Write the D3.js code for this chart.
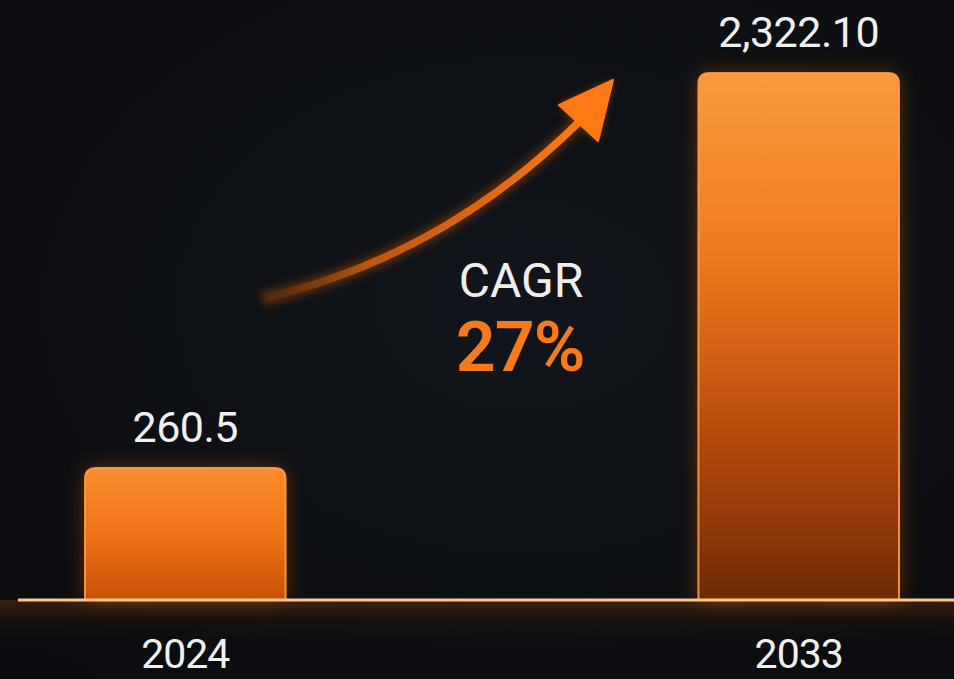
<!DOCTYPE html>
<html><head><meta charset="utf-8">
<script src="https://cdn.jsdelivr.net/npm/d3@7"></script>
<style>html,body{margin:0;padding:0;background:#0b0d11;overflow:hidden}svg{display:block}</style>
</head><body>
<script>
const years = ["2024", "2033"];
const values = [260.5, 2322.10];
const valueLabels = ["260.5", "2,322.10"];
const cagrLabel = "CAGR";
const cagrValue = "27%";

const W = 954, H = 679;
const baseY = 600;
const svg = d3.select("body").append("svg").attr("width", W).attr("height", H);
const defs = svg.append("defs");

// background
const bg = defs.append("radialGradient").attr("id","bg").attr("cx","0.55").attr("cy","0.45").attr("r","0.8");
bg.append("stop").attr("offset","0").attr("stop-color","#12151b");
bg.append("stop").attr("offset","1").attr("stop-color","#090b0e");
svg.append("rect").attr("width",W).attr("height",H).attr("fill","url(#bg)");

// glow below baseline
const gl = defs.append("linearGradient").attr("id","floor").attr("x1",0).attr("x2",0).attr("y1",0).attr("y2",1);
gl.append("stop").attr("offset","0").attr("stop-color","#6a320e").attr("stop-opacity",0.5);
gl.append("stop").attr("offset","0.35").attr("stop-color","#24140b").attr("stop-opacity",0.45);
gl.append("stop").attr("offset","1").attr("stop-color","#0a0a0c").attr("stop-opacity",0);
svg.append("rect").attr("x",0).attr("y",baseY).attr("width",W).attr("height",60).attr("fill","url(#floor)");

// filters
const blur = defs.append("filter").attr("id","glow").attr("x","-30%").attr("y","-30%").attr("width","160%").attr("height","160%");
blur.append("feGaussianBlur").attr("stdDeviation",10);
const blurS = defs.append("filter").attr("id","glowS").attr("x","-30%").attr("y","-300%").attr("width","160%").attr("height","700%");
blurS.append("feGaussianBlur").attr("stdDeviation",4);

// scales
const x = d3.scaleBand().domain(years).range([85, 899]).paddingInner(0.673).paddingOuter(0);
const y = d3.scaleLinear().domain([-428, 2322.1]).range([baseY, 73]);

// per-bar gradients
const gradStops = [
  [["0","#f98c2e"],["0.5","#f07418"],["1","#c65006"]],
  [["0","#fa9a40"],["0.35","#ee7a1e"],["0.7","#b5480c"],["1","#6e2a08"]]
];
gradStops.forEach((st,i)=>{
  const g = defs.append("linearGradient").attr("id","bar"+i).attr("x1",0).attr("x2",0).attr("y1",0).attr("y2",1);
  st.forEach(s=>g.append("stop").attr("offset",s[0]).attr("stop-color",s[1]));
});

function barPath(x0, y0, w, h, r){
  return `M${x0},${y0+h} V${y0+r} Q${x0},${y0} ${x0+r},${y0} H${x0+w-r} Q${x0+w},${y0} ${x0+w},${y0+r} V${y0+h} Z`;
}
const data = years.map((yr,i)=>({yr, v: values[i], label: valueLabels[i], i}));

// bar glows
svg.append("g").selectAll("path").data(data).join("path")
  .attr("d", d=>barPath(x(d.yr), y(d.v), x.bandwidth(), baseY - y(d.v), 12))
  .attr("fill","#e0660f").attr("opacity",0.4).attr("filter","url(#glow)");

// bars
svg.append("g").selectAll("path").data(data).join("path")
  .attr("d", d=>barPath(x(d.yr), y(d.v), x.bandwidth(), baseY - y(d.v), 11))
  .attr("fill", d=>`url(#bar${d.i})`)
  .attr("stroke","#ffa24a").attr("stroke-width",2).attr("stroke-opacity",0.85);

// baseline
svg.append("line").attr("x1",18).attr("x2",W).attr("y1",baseY).attr("y2",baseY)
  .attr("stroke","#ff7a18").attr("stroke-width",8).attr("filter","url(#glowS)").attr("opacity",0.9);
svg.append("line").attr("x1",18).attr("x2",W).attr("y1",baseY).attr("y2",baseY)
  .attr("stroke","#ffc884").attr("stroke-width",3);

const fontFam = "Roboto, sans-serif";
// value labels
svg.append("g").selectAll("text").data(data).join("text")
  .attr("x", d=>x(d.yr)+x.bandwidth()/2).attr("y", d=>y(d.v)-26)
  .attr("text-anchor","middle").attr("fill","#f0f0f0")
  .attr("font-family",fontFam).attr("font-size",43).attr("font-weight",400)
  .attr("letter-spacing",-0.5)
  .text(d=>d.label);

// year labels
svg.append("g").selectAll("text").data(data).join("text")
  .attr("x", d=>x(d.yr)+x.bandwidth()/2).attr("y", 668)
  .attr("text-anchor","middle").attr("fill","#f0f0f0")
  .attr("font-family",fontFam).attr("font-size",41).attr("font-weight",400)
  .attr("letter-spacing",-1)
  .text(d=>d.yr);

// arrow
const ag = defs.append("linearGradient").attr("id","arr").attr("gradientUnits","userSpaceOnUse")
  .attr("x1",262).attr("y1",298).attr("x2",580).attr("y2",120);
ag.append("stop").attr("offset","0").attr("stop-color","#b04a10").attr("stop-opacity",0);
ag.append("stop").attr("offset","0.3").attr("stop-color","#d9620f").attr("stop-opacity",0.8);
ag.append("stop").attr("offset","1").attr("stop-color","#ff7a14").attr("stop-opacity",1);
const shaft = d3.path();
shaft.moveTo(262, 299);
shaft.bezierCurveTo(400, 266, 500, 200, 580, 121);
svg.append("path").attr("d", shaft.toString()).attr("fill","none")
  .attr("stroke","#ff6a00").attr("stroke-width",14).attr("opacity",0.3).attr("filter","url(#glowS)");
svg.append("path").attr("d", shaft.toString()).attr("fill","none")
  .attr("stroke","url(#arr)").attr("stroke-width",7.5).attr("stroke-linecap","round");
const head = [[613,80],[559,105],[598,141]];
svg.append("path").attr("d", "M"+head.join("L")+"Z").attr("fill","#ff6a00").attr("opacity",0.45).attr("filter","url(#glowS)");
svg.append("path").attr("d", "M"+head.join("L")+"Z").attr("fill","#ff7a14").attr("stroke","#ff7a14").attr("stroke-width",2).attr("stroke-linejoin","round");

// CAGR
svg.append("text").attr("x",521).attr("y",297).attr("text-anchor","middle")
  .attr("fill","#eeeeee").attr("font-family",fontFam).attr("font-size",48).attr("font-weight",400)
  .text(cagrLabel);
svg.append("text").attr("x",520).attr("y",371).attr("text-anchor","middle")
  .attr("fill","#f47a1c").attr("font-family",fontFam).attr("font-size",70).attr("font-weight",600)
  .attr("letter-spacing",-1)
  .text(cagrValue);
</script>
</body></html>
